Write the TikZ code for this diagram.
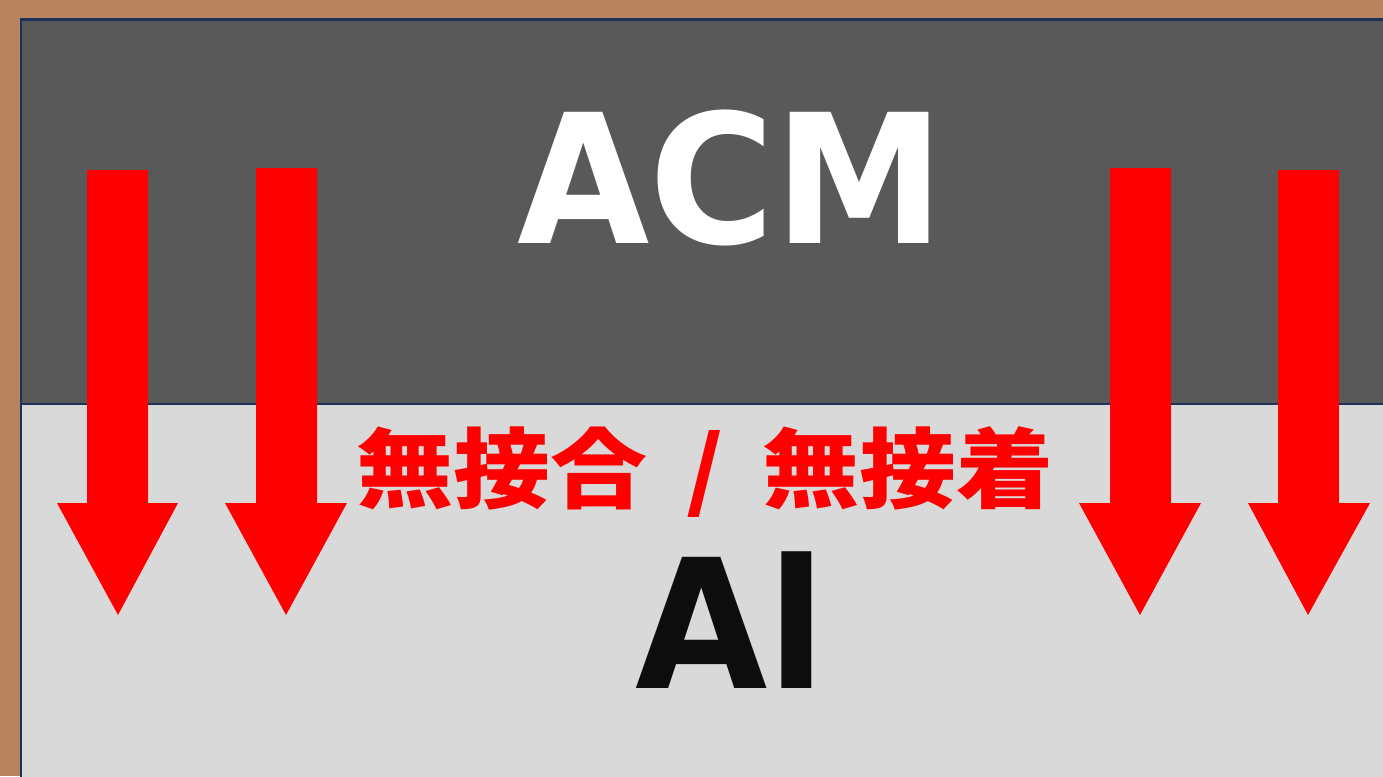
\documentclass[tikz,border=0pt]{standalone}
\usepackage{fontspec}
\newfontfamily\dvfont{DejaVu Sans}
\newfontfamily\cjkfont{Noto Sans CJK JP}[WordSpace=1.75]
\definecolor{wood}{HTML}{B8845F}
\definecolor{darkpanel}{HTML}{595959}
\definecolor{lightpanel}{HTML}{D9D9D9}
\definecolor{navy}{HTML}{1F3157}
\definecolor{alblack}{HTML}{0D0D0D}
\tikzset{
  panel/.style={draw=navy, line width=2.5pt},
  redarrow/.style={fill=red, draw=none},
  bigtext/.style={inner sep=0pt, anchor=base, font=\dvfont\bfseries\fontsize{180}{180}\selectfont},
  labeltext/.style={inner sep=0pt, anchor=base, text=red, font=\cjkfont\bfseries\fontsize{97}{97}\selectfont}
}
\begin{document}
\begin{tikzpicture}[x=1pt,y=-1pt]
\useasboundingbox (0,0) rectangle (1383,776);
\fill[wood] (0,0) rectangle (1383,776);
\begin{scope}
\clip (0,0) rectangle (1383,776);
\path[panel, fill=lightpanel] (21,404) rectangle (1420,820);
\path[panel, fill=darkpanel] (21,19.5) rectangle (1420,404);
\end{scope}
% arrows
\path[redarrow] (87,170) -- (148,170) -- (148,503) -- (178,503) -- (118,615) -- (57,503) -- (87,503) -- cycle;
\path[redarrow] (256,168) -- (317,168) -- (317,503) -- (347,503) -- (286,615) -- (225,503) -- (256,503) -- cycle;
\path[redarrow] (1110,168) -- (1171,168) -- (1171,503) -- (1201,503) -- (1140,615) -- (1079,503) -- (1110,503) -- cycle;
\path[redarrow] (1278,170) -- (1339,170) -- (1339,503) -- (1370,503) -- (1308,615) -- (1248,503) -- (1278,503) -- cycle;
% texts
\node[bigtext, text=white] (acm) at (731,243) {\scalebox{0.95}[1]{ACM}};
\node[bigtext, text=alblack] (al) at (731,688) {\scalebox{0.95}[1]{Al}};
\node[labeltext] (bond) at (705,501) {\scalebox{1}[0.9]{無接合 / 無接着}};
\end{tikzpicture}
\end{document}
